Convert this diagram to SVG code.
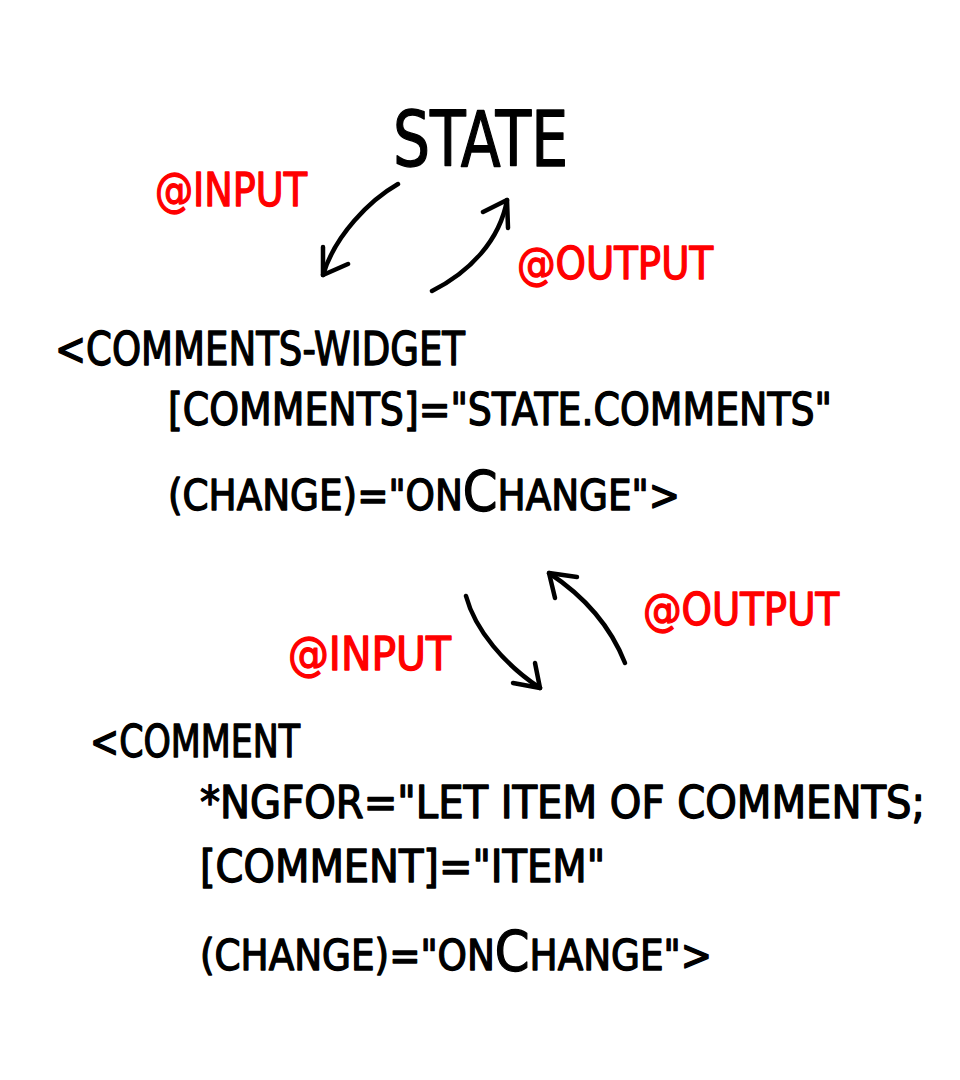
<svg xmlns="http://www.w3.org/2000/svg" width="960" height="1080" viewBox="0 0 960 1080">
<style>
  .t { font-family: "Liberation Sans Narrow", "DejaVu Sans Condensed", "Liberation Sans", sans-serif; fill: #000; stroke: #000; stroke-width: 1.3; stroke-linejoin: round; }
  .r { fill: #ff0000; stroke: #ff0000; }
  .c { fill: none; stroke: #000; stroke-width: 4.5; stroke-linecap: round; stroke-linejoin: round; }
</style>
<rect width="960" height="1080" fill="#fff"/>
<g id="state">
  <text class="t" x="393" y="166" font-size="76" textLength="175" lengthAdjust="spacingAndGlyphs" stroke-width="2">STATE</text>
</g>
<g id="input-top">
  <text class="t r" x="155" y="206" font-size="46" textLength="152" lengthAdjust="spacingAndGlyphs">@INPUT</text>
</g>
<g id="output-top">
  <text class="t r" x="517" y="279" font-size="45" textLength="196" lengthAdjust="spacingAndGlyphs">@OUTPUT</text>
</g>
<g id="comments-widget">
  <text class="t" x="55" y="365" font-size="46" textLength="410" lengthAdjust="spacingAndGlyphs">&lt;COMMENTS-WIDGET</text>
  <text class="t" x="168" y="425" font-size="44" textLength="664" lengthAdjust="spacingAndGlyphs">[COMMENTS]="STATE.COMMENTS"</text>
  <text class="t" x="168" y="510" font-size="42" textLength="512" lengthAdjust="spacingAndGlyphs">(CHANGE)="ON<tspan font-size="56">C</tspan>HANGE"&gt;</text>
</g>
<g id="output-mid">
  <text class="t r" x="643" y="625" font-size="45" textLength="196" lengthAdjust="spacingAndGlyphs">@OUTPUT</text>
</g>
<g id="input-mid">
  <text class="t r" x="288" y="670" font-size="46" textLength="163" lengthAdjust="spacingAndGlyphs">@INPUT</text>
</g>
<g id="comment">
  <text class="t" x="90" y="757" font-size="45" textLength="210" lengthAdjust="spacingAndGlyphs">&lt;COMMENT</text>
  <text class="t" x="200" y="818" font-size="44" textLength="725" lengthAdjust="spacingAndGlyphs">*NGFOR="LET ITEM OF COMMENTS;</text>
  <text class="t" x="200" y="882" font-size="44" textLength="405" lengthAdjust="spacingAndGlyphs">[COMMENT]="ITEM"</text>
  <text class="t" x="200" y="970" font-size="42" textLength="512" lengthAdjust="spacingAndGlyphs">(CHANGE)="ON<tspan font-size="56">C</tspan>HANGE"&gt;</text>
</g>
<g id="connectors">
  <path class="c" d="M398,184 C370,200 335,235 323,275"/>
  <polyline class="c" points="323,247 323,275 348,264"/>
  <path class="c" d="M432,291 C470,272 500,240 507,200"/>
  <polyline class="c" points="483,212 507,200 508,228"/>
  <path class="c" d="M466,596 C475,630 505,665 540,688"/>
  <polyline class="c" points="513,683 540,688 535,663"/>
  <path class="c" d="M625,663 C612,630 590,600 549,573"/>
  <polyline class="c" points="577,577 549,573 555,598"/>
</g>
</svg>
